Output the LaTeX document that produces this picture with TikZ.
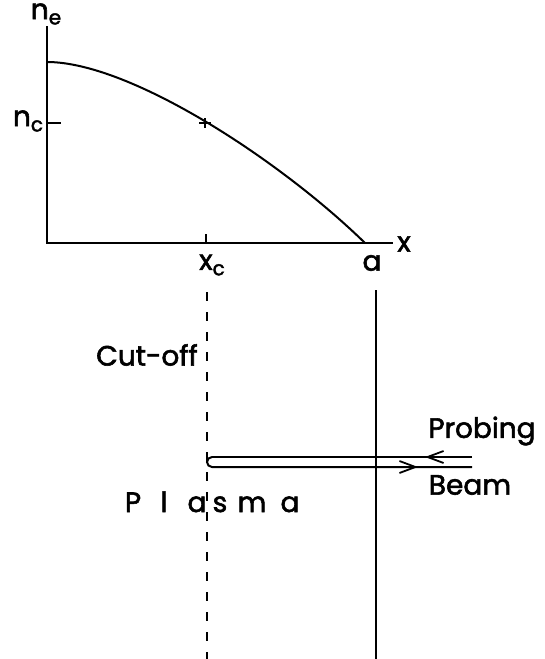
\documentclass[tikz,border=0pt]{standalone}
\usepackage{fontspec}
\setmainfont{Poppins}
\newfontfamily\lblfont{Poppins}[FakeBold=2]
\usetikzlibrary{arrows.meta}

\newcommand\sub[1]{\raisebox{-0.35ex}{\fontsize{20}{22}\selectfont #1}}

\begin{document}
\begin{tikzpicture}[x=1pt,y=-1pt,line width=2pt,
  lbl/.style={font=\lblfont\fontsize{28}{32}\selectfont, inner sep=0pt},
  tip/.style={-{Straight Barb[length=16pt,width=12pt,line width=1.8pt]}}]
\useasboundingbox (0,0) rectangle (545,659);

% axes
\coordinate (O) at (47,243);
\coordinate (ytop) at (47,26);
\coordinate (xend) at (393,243);
\draw (ytop) -- (O) -- (xend);

% density profile
\coordinate (n0) at (47,62);
\coordinate (a) at (365,243);
\draw (n0) .. controls (130,62) and (280,160) .. (a);
\draw (47,123) -- (61,123);
\draw (199,123) -- (211,123) (205,118) -- (205,128);
\draw (206,243) -- (206,234);

\node[lbl] (ne) at (46,14) {n\sub{e}};
\node[lbl] (nc) at (28,121) {n\sub{c}};
\node[lbl] (xl) at (404,244) {x};
\node[lbl] (xc) at (212,265) {x\sub{c}};
\node[lbl] (al) at (372,263) {a};

% cut-off and plasma edge
\draw[dash pattern=on 9pt off 11pt] (207,292) -- (207,659);
\draw (376,290) -- (376,659);

% probing beam
\coordinate (inR) at (472,457);
\coordinate (outR) at (472,467);
\draw[line width=2.8pt] (inR) -- (212,457);
\draw (212,457) arc[start angle=270,end angle=90,radius=5] -- (outR);
\draw[tip,line width=2.8pt] (445,457) -- (425,457);
\draw[tip] (398,467) -- (418,467);

\node[lbl] (cut) at (147,355) {Cut-off};
\node[lbl] (prob) at (482,431) {Probing};
\node[lbl] (beam) at (470,485) {Beam};
\foreach \c/\x [count=\i] in {P/133,l/164,a/197,s/220,m/252,a/290}
  \node[lbl,anchor=base] (pl\i) at (\x,512) {\c};
\end{tikzpicture}
\end{document}
